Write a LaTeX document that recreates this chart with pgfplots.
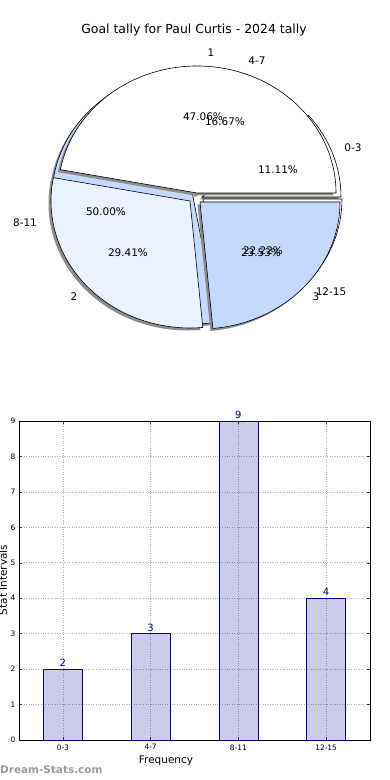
\documentclass[border=0pt]{standalone}
\usepackage{pgfplots}
\pgfplotsset{compat=1.18}
\usepackage{fontspec}
\setmainfont{DejaVu Sans}
\definecolor{pieAtwo}{RGB}{234,241,255}
\definecolor{pieAthree}{RGB}{197,217,255}
\definecolor{baredge}{RGB}{0,0,139}
\definecolor{wm}{RGB}{155,155,155}
\definecolor{gridc}{RGB}{175,175,175}
% wedge: cx cy startangle endangle rx ry style
\newcommand\wedgeat[7]{%
  \path[#7] (axis cs:#1,#2) -- ++(#3:#5bp and #6bp)
    arc[start angle=#3, end angle=#4, x radius=#5bp, y radius=#6bp] -- cycle;}
\begin{document}
\begin{tikzpicture}
\useasboundingbox (0bp,0bp) rectangle (390bp,780bp);
% ---- data ----
\def\Aone{8}\def\Atwo{5}\def\Athree{4}
\def\Bone{2}\def\Btwo{3}\def\Bthree{9}\def\Bfour{4}
\pgfmathsetmacro\At{\Aone+\Atwo+\Athree}
\pgfmathsetmacro\aAone{360*\Aone/\At}
\pgfmathsetmacro\aAtwo{360*(\Aone+\Atwo)/\At}
\pgfmathsetmacro\Bt{\Bone+\Btwo+\Bthree+\Bfour}
\pgfmathsetmacro\aBone{360*\Bone/\Bt}
\pgfmathsetmacro\aBtwo{360*(\Bone+\Btwo)/\Bt}
\pgfmathsetmacro\aBthree{360*(\Bone+\Btwo+\Bthree)/\Bt}

\node[font=\fontsize{12.5}{15}\selectfont] at (194bp,750bp) {Goal tally for Paul Curtis - 2024 tally};

% ---- pie ----
\begin{axis}[at={(0bp,390bp)}, anchor=south west, x=1bp, y=1bp,
  xmin=0, xmax=390, ymin=0, ymax=390, hide axis, clip=false]
% shadows of second pie
\wedgeat{199.5}{190.5}{0}{\aBone}{139}{127}{fill=black!45}
\wedgeat{194.5}{192.5}{\aBone}{\aBtwo}{139}{127}{fill=black!45}
\wedgeat{190.5}{190.5}{\aBtwo}{\aBthree}{141}{127}{fill=black!45}
\wedgeat{200.5}{188.5}{\aBthree}{360}{139}{127}{fill=black!45}
% second pie (0-3, 4-7, 8-11, 12-15)
\wedgeat{202}{193}{0}{\aBone}{139}{127}{fill=white, draw=black, line width=0.6bp}
\wedgeat{197}{195}{\aBone}{\aBtwo}{139}{127}{fill=pieAtwo, draw=black, line width=0.6bp}
\wedgeat{193}{193}{\aBtwo}{\aBthree}{141}{127}{fill=pieAthree, draw=black, line width=0.6bp}
\wedgeat{203}{191}{\aBthree}{360}{139}{127}{fill=white, draw=black, line width=0.6bp}
% shadows of first pie
\wedgeat{194.5}{194.5}{0}{\aAone}{139}{127}{fill=black!45}
\wedgeat{187.5}{186.5}{\aAone}{\aAtwo}{139}{127}{fill=black!45}
\wedgeat{197.5}{185.5}{\aAtwo}{360}{140}{127}{fill=black!45}
% first pie (1, 2, 3)
\wedgeat{197}{197}{0}{\aAone}{139}{127}{fill=white, draw=black, line width=0.6bp}
\wedgeat{190}{189}{\aAone}{\aAtwo}{139}{127}{fill=pieAtwo, draw=black, line width=0.6bp}
\wedgeat{200}{188}{\aAtwo}{360}{140}{127}{fill=pieAthree, draw=black, line width=0.6bp}
% labels
\begin{scope}[every node/.style={font=\fontsize{10.5}{12}\selectfont, inner sep=0pt}]
\node at (axis cs:211,337) {1};
\node at (axis cs:257,329) {4-7};
\node at (axis cs:353,242) {0-3};
\node at (axis cs:25,167) {8-11};
\node at (axis cs:74,93) {2};
\node at (axis cs:316,93) {3};
\node at (axis cs:331,98) {12-15};
\node at (axis cs:203,273) {47.06\%};
\node at (axis cs:225,268) {16.67\%};
\node at (axis cs:278,220) {11.11\%};
\node at (axis cs:106,178) {50.00\%};
\node at (axis cs:128,137) {29.41\%};
\node at (axis cs:263,139) {22.22\%};
\node at (axis cs:261,137) {23.53\%};
\end{scope}
\end{axis}

% ---- bar chart ----
\begin{axis}[name=bar, at={(194.5bp,199.5bp)}, anchor=center, width=351bp, height=319bp, scale only axis,
  xmin=-0.5, xmax=3.5, ymin=0, ymax=9,
  xtick={0,1,2,3}, xticklabels={0-3,4-7,8-11,12-15},
  ytick={0,1,...,9},
  grid=major, grid style={dotted, gridc, line width=0.7bp},
  tick align=inside, major tick length=3bp, tick style={black!80, line width=0.5bp},
  axis line style={black, line width=0.8bp},
  ticklabel style={font=\fontsize{7.5}{9}\selectfont},
  /pgf/number format/assume math mode=true,
  xticklabel style={yshift=-1bp},
  clip=false]
\addplot[ybar, bar width=39bp, fill=baredge, fill opacity=0.2, draw=baredge, draw opacity=1, line width=0.7bp,
  nodes near coords, nodes near coords style={font=\fontsize{10}{12}\selectfont, text=baredge, text opacity=1, inner sep=2bp}]
  coordinates {(0,2) (1,3) (2,9) (3,4)};
\end{axis}
\node[font=\fontsize{10.5}{12}\selectfont] at (166bp,19bp) {Frequency};
\node[font=\fontsize{10.5}{12}\selectfont, rotate=90] at (3bp,200bp) {Stat Intervals};

\node[anchor=west, text=wm, font=\bfseries\fontsize{10.5}{12}\selectfont, inner sep=0pt] at (0bp,10bp) {Dream-Stats.com};
\end{tikzpicture}
\end{document}
